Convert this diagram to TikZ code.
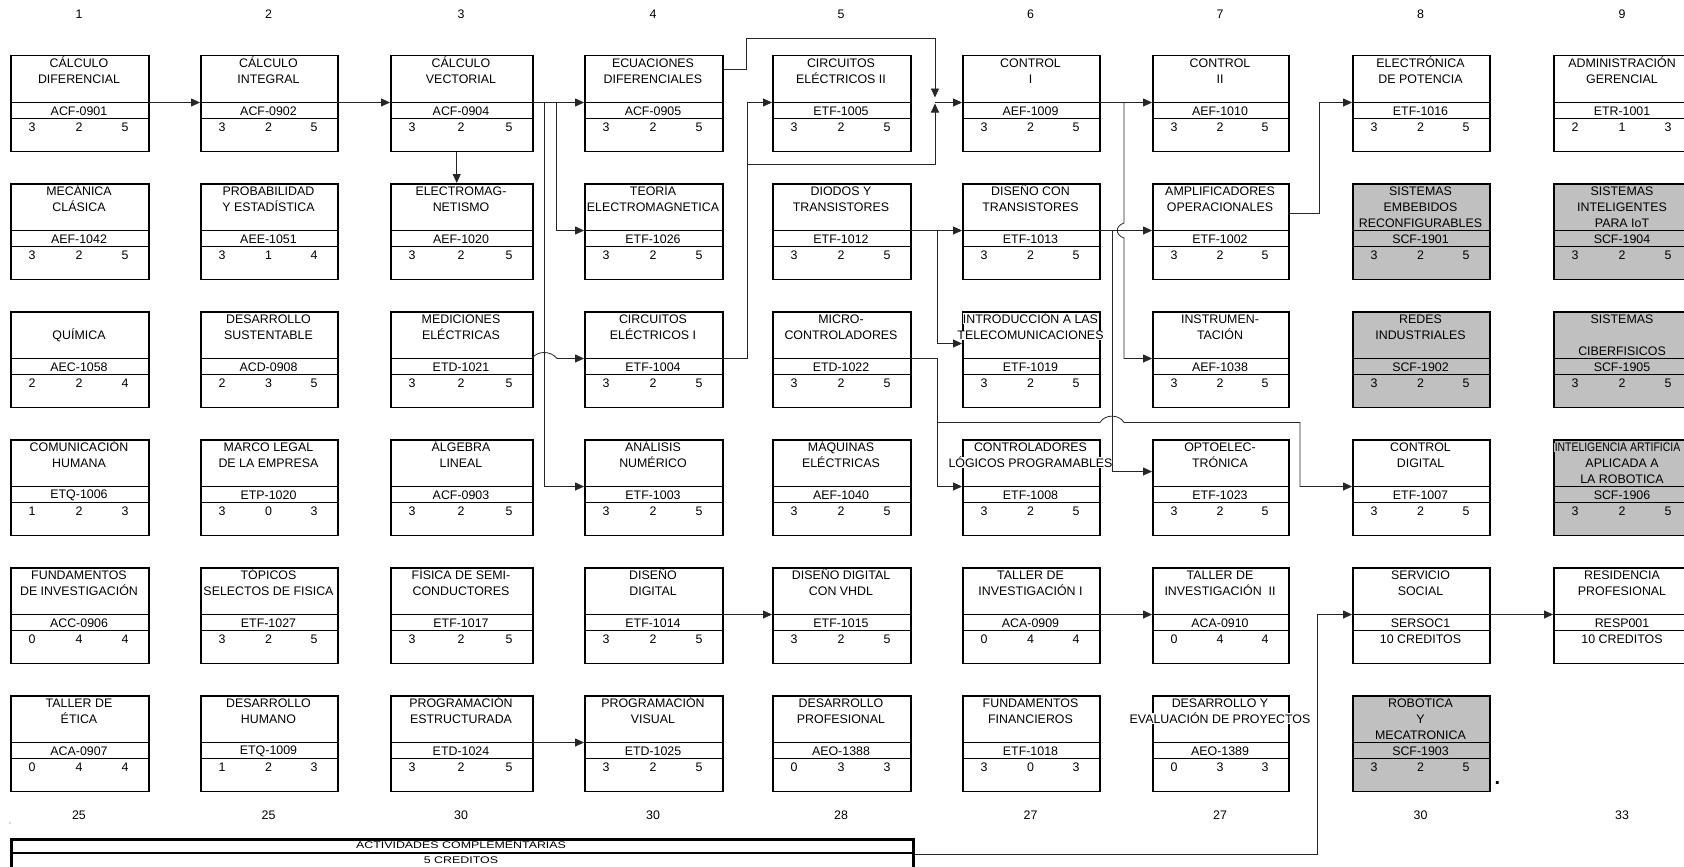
\documentclass[tikz,border=0pt]{standalone}
\usepackage{fontspec}
\setmainfont{Liberation Sans}
\usepackage{graphicx}
\usetikzlibrary{arrows.meta,calc}
\definecolor{boxgray}{HTML}{C0C0C0}
\newcommand\tfont{\fontsize{12.4}{16}\selectfont}
\newcommand\tstrut{\rule{0pt}{13pt}}
\newcommand\curfill{white}
\newcommand\bgc[1]{{\setlength{\fboxsep}{0.4pt}\colorbox{\curfill}{#1}}}
\tikzset{
  box/.style={draw=black, line width=1.5pt, rectangle, minimum height=95.5pt, inner sep=0pt},
  boxline/.style={line width=1.5pt},
  ttl/.style={anchor=north, align=center, inner sep=0pt, font=\tfont},
  txt/.style={inner sep=0pt, font=\tfont},
  conn/.style={line width=0.8pt, draw=black!85},
  arr/.style={conn, -{Triangle[length=9pt,width=8pt]}},
}
\newcommand\coursenums[7]{%
  \node[txt] (#1-a) at ({#2+22},{#4+72}) {#5};
  \node[txt] (#1-b) at ({(#2+#3)/2},{#4+72}) {#6};
  \node[txt] (#1-d) at ({#3-23},{#4+72}) {#7};
}
\newcommand\course[8]{%
  \renewcommand\curfill{#5}%
  \node[box, fill=#5, minimum width={(#3-#2)*1pt}, anchor=north west] (#1) at (#2,#4) {};
  \draw[boxline] (#2,{#4+47.5}) -- (#3,{#4+47.5}) (#2,{#4+63.5}) -- (#3,{#4+63.5});
  \coordinate (#1-w) at (#2,{#4+47.5});
  \coordinate (#1-e) at (#3,{#4+47.5});
  \node[ttl] (#1-t) at ({(#2+#3)/2},{#4-0.5}) {\tstrut #6};
  \node[txt] (#1-k) at ({(#2+#3)/2},{#4+56}) {#7};
  \coursenums{#1}{#2}{#3}{#4}#8%
}
\begin{document}
\begin{tikzpicture}[x=1pt,y=-1pt]
\useasboundingbox (0,0) rectangle (1684,867);
\fill[white] (0,0) rectangle (1684,867);

% column numbers and totals
\foreach \x/\t [count=\i] in {79/1,268.5/2,461/3,653/4,841/5,1030.5/6,1220/7,1420.5/8,1622/9}
  \node[txt] (h\i) at (\x,14) {\t};
\foreach \x/\t [count=\i] in {79/25,268.5/25,461/30,653/30,841/28,1030.5/27,1220/27,1420.5/30,1622/33}
  \node[txt] (s\i) at (\x,815) {\t};

% column 1
\course{n11}{10}{148}{55}{white}{CÁLCULO\\DIFERENCIAL}{ACF-0901}{{3}{2}{5}}
\course{n12}{10}{148}{183}{white}{MECÁNICA\\CLÁSICA}{AEF-1042}{{3}{2}{5}}
\course{n13}{10}{148}{311}{white}{\\QUÍMICA}{AEC-1058}{{2}{2}{4}}
\course{n14}{10}{148}{439}{white}{COMUNICACIÓN\\HUMANA}{ETQ-1006}{{1}{2}{3}}
\course{n15}{10}{148}{567}{white}{FUNDAMENTOS\\\bgc{DE INVESTIGACIÓN}}{ACC-0906}{{0}{4}{4}}
\course{n16}{10}{148}{695}{white}{TALLER DE\\ÉTICA}{ACA-0907}{{0}{4}{4}}
% column 2
\course{n21}{200}{337}{55}{white}{CÁLCULO\\INTEGRAL}{ACF-0902}{{3}{2}{5}}
\course{n22}{200}{337}{183}{white}{PROBABILIDAD\\Y ESTADÍSTICA}{AEE-1051}{{3}{1}{4}}
\course{n23}{200}{337}{311}{white}{DESARROLLO\\SUSTENTABLE}{ACD-0908}{{2}{3}{5}}
\course{n24}{200}{337}{439}{white}{MARCO LEGAL\\DE LA EMPRESA}{ETP-1020}{{3}{0}{3}}
\course{n25}{200}{337}{567}{white}{TÓPICOS\\\bgc{SELECTOS DE FISICA}}{ETF-1027}{{3}{2}{5}}
\course{n26}{200}{337}{695}{white}{DESARROLLO\\HUMANO}{ETQ-1009}{{1}{2}{3}}
% column 3
\course{n31}{390}{532}{55}{white}{CÁLCULO\\VECTORIAL}{ACF-0904}{{3}{2}{5}}
\course{n32}{390}{532}{183}{white}{ELECTROMAG-\\NETISMO}{AEF-1020}{{3}{2}{5}}
\course{n33}{390}{532}{311}{white}{MEDICIONES\\ELÉCTRICAS}{ETD-1021}{{3}{2}{5}}
\course{n34}{390}{532}{439}{white}{ÁLGEBRA\\LINEAL}{ACF-0903}{{3}{2}{5}}
\course{n35}{390}{532}{567}{white}{FÍSICA DE SEMI-\\CONDUCTORES}{ETF-1017}{{3}{2}{5}}
\course{n36}{390}{532}{695}{white}{PROGRAMACIÓN\\ESTRUCTURADA}{ETD-1024}{{3}{2}{5}}
% column 4
\course{n41}{584}{722}{55}{white}{ECUACIONES\\DIFERENCIALES}{ACF-0905}{{3}{2}{5}}
\course{n42}{584}{722}{183}{white}{TEORÍA\\\bgc{ELECTROMAGNETICA}}{ETF-1026}{{3}{2}{5}}
\course{n43}{584}{722}{311}{white}{CIRCUITOS\\ELÉCTRICOS I}{ETF-1004}{{3}{2}{5}}
\course{n44}{584}{722}{439}{white}{ANÁLISIS\\NUMÉRICO}{ETF-1003}{{3}{2}{5}}
\course{n45}{584}{722}{567}{white}{DISEÑO\\DIGITAL}{ETF-1014}{{3}{2}{5}}
\course{n46}{584}{722}{695}{white}{PROGRAMACIÓN\\VISUAL}{ETD-1025}{{3}{2}{5}}
% column 5
\course{n51}{772}{910}{55}{white}{CIRCUITOS\\ELÉCTRICOS II}{ETF-1005}{{3}{2}{5}}
\course{n52}{772}{910}{183}{white}{DIODOS Y\\TRANSISTORES}{ETF-1012}{{3}{2}{5}}
\course{n53}{772}{910}{311}{white}{MICRO-\\CONTROLADORES}{ETD-1022}{{3}{2}{5}}
\course{n54}{772}{910}{439}{white}{MÁQUINAS\\ELÉCTRICAS}{AEF-1040}{{3}{2}{5}}
\course{n55}{772}{910}{567}{white}{DISEÑO DIGITAL\\CON VHDL}{ETF-1015}{{3}{2}{5}}
\course{n56}{772}{910}{695}{white}{DESARROLLO\\PROFESIONAL}{AEO-1388}{{0}{3}{3}}
% column 6
\course{n61}{962}{1099}{55}{white}{CONTROL\\I}{AEF-1009}{{3}{2}{5}}
\course{n62}{962}{1099}{183}{white}{DISEÑO CON\\TRANSISTORES}{ETF-1013}{{3}{2}{5}}
\course{n63}{962}{1099}{311}{white}{\bgc{INTRODUCCIÓN A LAS}\\\bgc{TELECOMUNICACIONES}}{ETF-1019}{{3}{2}{5}}
\course{n64}{962}{1099}{439}{white}{CONTROLADORES\\\bgc{LÓGICOS PROGRAMABLES}}{ETF-1008}{{3}{2}{5}}
\course{n65}{962}{1099}{567}{white}{TALLER DE\\INVESTIGACIÓN I}{ACA-0909}{{0}{4}{4}}
\course{n66}{962}{1099}{695}{white}{FUNDAMENTOS\\FINANCIEROS}{ETF-1018}{{3}{0}{3}}
% column 7
\course{n71}{1152}{1288}{55}{white}{CONTROL\\II}{AEF-1010}{{3}{2}{5}}
\course{n72}{1152}{1288}{183}{white}{AMPLIFICADORES\\OPERACIONALES}{ETF-1002}{{3}{2}{5}}
\course{n73}{1152}{1288}{311}{white}{INSTRUMEN-\\TACIÓN}{AEF-1038}{{3}{2}{5}}
\course{n74}{1152}{1288}{439}{white}{OPTOELEC-\\TRÓNICA}{ETF-1023}{{3}{2}{5}}
\course{n75}{1152}{1288}{567}{white}{TALLER DE\\INVESTIGACIÓN~~II}{ACA-0910}{{0}{4}{4}}
\course{n76}{1152}{1288}{695}{white}{DESARROLLO Y\\\bgc{EVALUACIÓN DE PROYECTOS}}{AEO-1389}{{0}{3}{3}}
% column 8
\course{n81}{1352}{1489}{55}{white}{ELECTRÓNICA\\DE POTENCIA}{ETF-1016}{{3}{2}{5}}
\course{n82}{1352}{1489}{183}{boxgray}{SISTEMAS\\EMBEBIDOS\\\bgc{RECONFIGURABLES}}{SCF-1901}{{3}{2}{5}}
\course{n83}{1352}{1489}{311}{boxgray}{REDES\\INDUSTRIALES}{SCF-1902}{{3}{2}{5}}
\course{n84}{1352}{1489}{439}{white}{CONTROL\\DIGITAL}{ETF-1007}{{3}{2}{5}}
\course{n85}{1352}{1489}{567}{white}{SERVICIO\\SOCIAL}{SERSOC1}{{}{10 CREDITOS}{}}
\course{n86}{1352}{1489}{695}{boxgray}{ROBOTICA\\Y\\MECATRONICA}{SCF-1903}{{3}{2}{5}}
% column 9
\course{n91}{1553}{1691}{55}{white}{\bgc{ADMINISTRACIÓN}\\GERENCIAL}{ETR-1001}{{2}{1}{3}}
\course{n92}{1553}{1691}{183}{boxgray}{SISTEMAS\\INTELIGENTES\\PARA IoT}{SCF-1904}{{3}{2}{5}}
\course{n93}{1553}{1691}{311}{boxgray}{SISTEMAS\\\tstrut\\CIBERFISICOS}{SCF-1905}{{3}{2}{5}}
\course{n94}{1553}{1691}{439}{boxgray}{\hspace*{-9pt}\bgc{\scalebox{0.84}[1]{INTELIGENCIA ARTIFICIA}}\\APLICADA A\\LA ROBOTICA}{SCF-1906}{{3}{2}{5}}
\course{n95}{1553}{1691}{567}{white}{RESIDENCIA\\PROFESIONAL}{RESP001}{{}{10 CREDITOS}{}}

% actividades complementarias
\node[draw=black, line width=2.5pt, rectangle, inner sep=0pt, minimum width=902pt, minimum height=30pt, anchor=north west] (act) at (10,838) {};
\draw[line width=2pt] (10,853) -- (912,853);
\node[txt] (act-t) at (461,845.5) {\scalebox{1}[0.78]{ACTIVIDADES COMPLEMENTARIAS}};
\node[txt] (act-c) at (461,860.5) {\scalebox{1}[0.78]{5 CREDITOS}};

% small marks
\node[inner sep=0pt, anchor=base, font=\fontsize{20}{20}\selectfont\bfseries] (dot) at (1497.5,784) {.};
\fill[blue!40!gray] (10,823) circle (0.6);

% connectors
\draw[arr] (n11-e) -- (n21-w);
\draw[arr] (n21-e) -- (n31-w);
\draw[arr] (n31-e) -- (n41-w);
\coordinate (j1) at (544,102.5);
\coordinate (j2) at (556,102.5);
\draw[arr] (j1) |- (n44-w);
\draw[arr] (j2) |- (n42-w);
\draw[arr] ([xshift=-5pt]n31.south) -- ([xshift=-5pt]n32.north);
\coordinate (h1) at (557,358.5);
\draw[arr] (n33-e) .. controls +(5,-8) and +(-6,-8) .. (h1) -- (n43-w);
\coordinate (v1) at (747,102.5);
\draw[arr] (n43-e) -| (v1) -- (n51-w);
\coordinate (k1) at (747,164);
\coordinate (m1) at (935,102.5);
\draw[arr] (k1) -| ([yshift=-1pt]m1);
\draw[arr] ([yshift=-14pt]n41.north east) -| (746,38) -| ([yshift=5pt]m1);
\draw[arr] (m1) -- (n61-w);
\draw[arr] (n61-e) -- (n71-w);
\coordinate (j4) at (1124,102.5);
\draw[arr] (j4) -- (1124,223) .. controls (1115,226) and (1115,235) .. (1124,238) |- (n73-w);
\draw[arr] (n52-e) -- (n62-w);
\coordinate (j5) at (937,230.5);
\draw[arr] (j5) |- ([yshift=16pt]n63.west);
\draw[arr] (n62-e) -- (n72-w);
\coordinate (j6) at (1112,230.5);
\draw[arr] (j6) |- ([yshift=16pt]n74.west);
\draw[arr] ([yshift=-30pt]n72.north east) -| (1319,102.5) -- (n81-w);
\coordinate (j7) at (937,422.5);
\draw[arr] (n53-e) -| (j7) |- (n64-w);
\draw[arr] (j7) -- (1100,422.5) .. controls (1105,414) and (1119,414) .. (1124,422.5) -- (1300,422.5) |- (n84-w);
\draw[arr] (n45-e) -- (n55-w);
\draw[arr] (n65-e) -- (n75-w);
\draw[arr] (n85-e) -- (n95-w);
\draw[arr] (n36-e) -- (n46-w);
\draw[arr] (act.east) -| (1317,614.5) -- (n85-w);
\end{tikzpicture}
\end{document}
